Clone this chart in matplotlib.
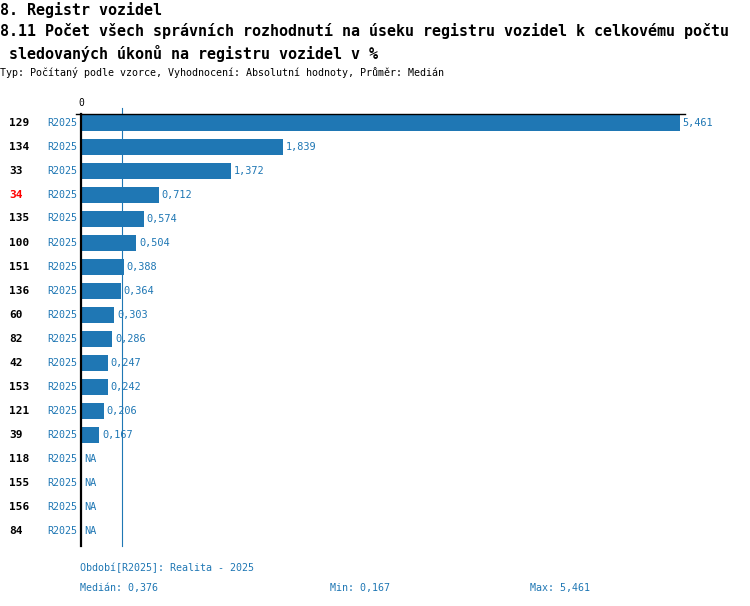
import matplotlib.pyplot as plt
import numpy as np
from matplotlib.lines import Line2D

units = ['129', '134', '33', '34', '135', '100', '151', '136', '60', '82',
         '42', '153', '121', '39', '118', '155', '156', '84']
values = [5.461, 1.839, 1.372, 0.712, 0.574, 0.504, 0.388, 0.364, 0.303, 0.286,
          0.247, 0.242, 0.206, 0.167, np.nan, np.nan, np.nan, np.nan]
period = 'R2025'
highlight = '34'

W, H = 750, 606
blue = '#1f77b4'
mono = 'DejaVu Sans Mono'


def fx(x):
    return x / W


def fy(y):
    return 1 - y / H


def fmt(v):
    return f'{v:.3f}'.replace('.', ',')


fig = plt.figure(figsize=(W / 100, H / 100), dpi=100)

# plot area in pixel coords
left, right, top, bottom = 81, 685, 114, 546
ax = fig.add_axes([fx(left), fy(bottom), (right - left) / W, (bottom - top) / H])

vals = np.array(values, dtype=float)
known = vals[~np.isnan(vals)]
med, vmin, vmax = np.median(known), known.min(), known.max()

xmax = vmax * (right - left) / (680 - left)
row0, step = 122.5, 24
ax.set_xlim(0, xmax)
ax.set_ylim((bottom - row0) / step, -(row0 - top) / step)

ypos = np.arange(len(units))
ax.plot([med, med], [-(row0 - 108) / step, (bottom - row0) / step],
        color=blue, lw=0.8, clip_on=False, zorder=1)
ax.barh(ypos, np.nan_to_num(vals), height=16 / step, color=blue, zorder=2)

for i, v in enumerate(vals):
    if np.isnan(v):
        ax.annotate('NA', (0, i), xytext=(2, 0), textcoords='offset points',
                    va='center', ha='left', color=blue, fontsize=7.4, family=mono)
    else:
        ax.annotate(fmt(v), (v, i), xytext=(2, 0), textcoords='offset points',
                    va='center', ha='left', color=blue, fontsize=7.4, family=mono)
    fig.text(fx(9), fy(row0 + step * i), units[i], va='center', ha='left',
             fontsize=8, family=mono, weight='bold',
             color='red' if units[i] == highlight else 'black')
    fig.text(fx(47), fy(row0 + step * i), period, va='center', ha='left',
             fontsize=7.2, family=mono, color=blue)

for s in ['right', 'bottom']:
    ax.spines[s].set_visible(False)
ax.spines['left'].set_linewidth(1.6)
ax.spines['top'].set_linewidth(1.0)
ax.set_xticks([])
ax.set_yticks([])
fig.add_artist(Line2D([fx(76), fx(81)], [fy(114), fy(114)], color='black', lw=1.0))
fig.text(fx(81), fy(103), '0', ha='center', va='center', fontsize=7, family=mono)

# titles
fig.text(fx(0), fy(10), '8. Registr vozidel', ha='left', va='center',
         fontsize=10.8, family=mono, weight='bold')
fig.text(fx(0), fy(31), '8.11 Počet všech správních rozhodnutí na úseku registru vozidel k celkovému počtu',
         ha='left', va='center', fontsize=10.8, family=mono, weight='bold')
fig.text(fx(0), fy(53), ' sledovaných úkonů na registru vozidel v %',
         ha='left', va='center', fontsize=10.8, family=mono, weight='bold')
fig.text(fx(0), fy(73), 'Typ: Počítaný podle vzorce, Vyhodnocení: Absolutní hodnoty, Průměr: Medián',
         ha='left', va='center', fontsize=7.2, family=mono)

# footer
fig.text(fx(80), fy(568), f'Období[{period}]: Realita - 2025', ha='left', va='center',
         fontsize=7.2, family=mono, color=blue)
fig.text(fx(80), fy(588), f'Medián: {fmt(med)}', ha='left', va='center',
         fontsize=7.2, family=mono, color=blue)
fig.text(fx(330), fy(588), f'Min: {fmt(vmin)}', ha='left', va='center',
         fontsize=7.2, family=mono, color=blue)
fig.text(fx(530), fy(588), f'Max: {fmt(vmax)}', ha='left', va='center',
         fontsize=7.2, family=mono, color=blue)

fig.savefig('out.png', dpi=100)
